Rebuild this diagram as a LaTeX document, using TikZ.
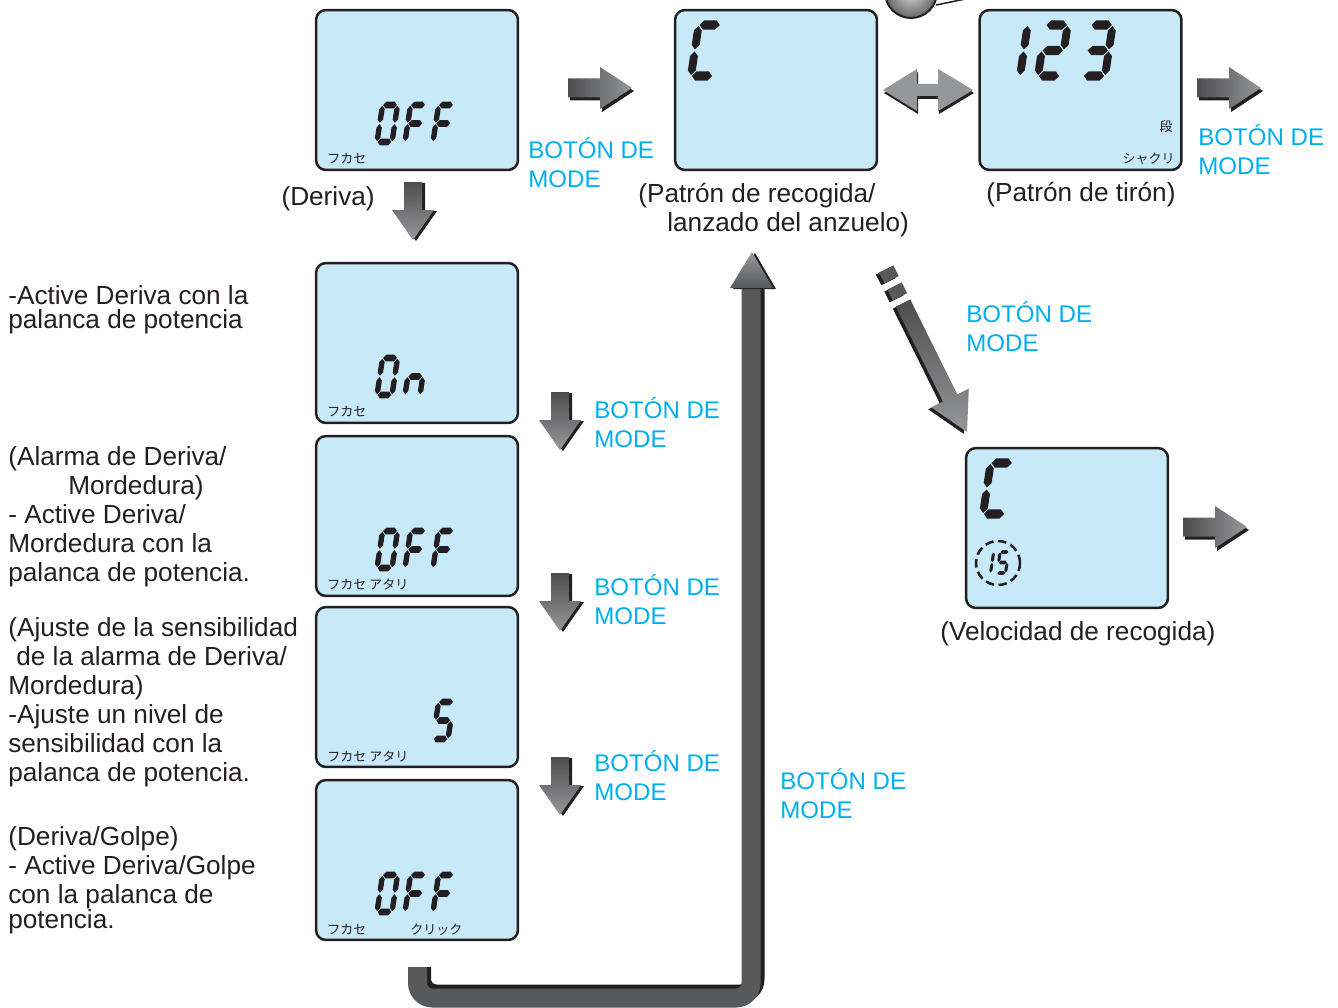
\documentclass[tikz,border=0pt]{standalone}
\usepackage{fontspec}
\setmainfont{Liberation Sans}
\newfontfamily\jpfont{Noto Sans CJK JP}
\usetikzlibrary{positioning}
\definecolor{lcdblue}{RGB}{199,233,248}
\definecolor{inkdark}{RGB}{35,31,32}
\definecolor{modecyan}{RGB}{0,174,239}
\definecolor{arrowdark}{RGB}{77,77,79}
\definecolor{arrowlight}{RGB}{150,151,154}
\definecolor{bandgray}{RGB}{88,89,91}
\tikzset{x=0.02cm, y=-0.02cm,
lcd/.style={draw=inkdark, fill=lcdblue, line width=0.05cm, rounded corners=0.2cm, minimum width=4.04cm, minimum height=3.2cm, inner sep=0pt},
modetext/.style={text=modecyan, align=left, anchor=base west, inner sep=0pt, font=\fontsize{13.7}{16.4}\selectfont},
desc/.style={text=inkdark, align=left, anchor=base west, inner sep=0pt, font=\fontsize{14.9}{16.4}\selectfont},
jp/.style={text=inkdark, inner sep=0pt, anchor=base west, font=\jpfont\fontsize{7.4}{8}\selectfont},
lcdink/.style={fill=inkdark},
shadowfill/.style={fill=inkdark},
}
\newcommand\lcdh[1]{\fill[lcdink] (0.04,#1) -- (0.22,#1+0.18) -- (0.78,#1+0.18) -- (0.96,#1) -- (0.78,#1-0.18) -- (0.22,#1-0.18) -- cycle;}
\newcommand\lcdv[2]{\fill[lcdink] (#1,#2+0.04) -- (#1+0.18,#2+0.22) -- (#1+0.18,#2+0.78) -- (#1,#2+0.96) -- (#1-0.18,#2+0.78) -- (#1-0.18,#2+0.22) -- cycle;}
\newcommand\lcdsega{\lcdh{2}}
\newcommand\lcdsegb{\lcdv{1}{1}}
\newcommand\lcdsegc{\lcdv{1}{0}}
\newcommand\lcdsegd{\lcdh{0}}
\newcommand\lcdsege{\lcdv{0}{0}}
\newcommand\lcdsegf{\lcdv{0}{1}}
\newcommand\lcdsegg{\lcdh{1}}
\newcommand\lcddigit[5]{%
  \begin{scope}[shift={(#1,#2)}, x={(#3*0.02cm,0cm)}, y={(0cm,#4*0.02cm)}, xslant=0.15]
    \foreach \s in {#5} {\csname lcdseg\s\endcsname}
  \end{scope}}
\newcommand\modearrowright[2]{%
  \begin{scope}[shift={(#1,#2)}]
    \fill[shadowfill, shift={(2,3)}] (0,-9.5) -- (32,-9.5) -- (32,-21) -- (64,0) -- (32,21) -- (32,9.5) -- (0,9.5) -- cycle;
    \shade[left color=arrowdark, right color=arrowlight] (0,-9.5) -- (32,-9.5) -- (32,-21) -- (64,0) -- (32,21) -- (32,9.5) -- (0,9.5) -- cycle;
  \end{scope}}
\newcommand\modearrowdown[2]{%
  \begin{scope}[shift={(#1,#2)}]
    \fill[shadowfill, shift={(3,1)}] (-9,0) -- (-9,28) -- (-21,28) -- (0,58) -- (21,28) -- (9,28) -- (9,0) -- cycle;
    \shade[top color=arrowdark, bottom color=arrowlight] (-9,0) -- (-9,28) -- (-21,28) -- (0,58) -- (21,28) -- (9,28) -- (9,0) -- cycle;
  \end{scope}}

\begin{document}
\begin{tikzpicture}
	\useasboundingbox (0,0) rectangle (1338,1007);
	\clip (0,0) rectangle (1338,1007);
	% knob
	\draw[inkdark, line width=0.03cm] (936,5) -- (990,-6);
	\shade[inner color=gray!30, outer color=gray!80!black, draw=inkdark, line width=0.04cm] (911,-8) circle (0.52cm);
	% screens
	\node[lcd] (drift) at (417,90) {};
	\node[lcd] (retrieve) at (776,90) {};
	\node[lcd] (jerk) at (1080.5,90) {};
	\node[lcd] (drifton) at (417,343) {};
	\node[lcd] (bite) at (417,516) {};
	\node[lcd] (sense) at (417,687) {};
	\node[lcd] (knock) at (417,860) {};
	\node[lcd] (speed) at (1067,528) {};
	% digits
	\lcddigit{377}{142}{15}{18.5}{a,b,c,d,e,f}
	\lcddigit{405}{142}{15}{18.5}{a,e,f,g}
	\lcddigit{433}{142}{15}{18.5}{a,e,f,g}
	\lcddigit{377}{395}{15}{18.5}{a,b,c,d,e,f}
	\lcddigit{405}{395}{15}{18.5}{c,e,g}
	\lcddigit{377}{568}{15}{18.5}{a,b,c,d,e,f}
	\lcddigit{405}{568}{15}{18.5}{a,e,f,g}
	\lcddigit{433}{568}{15}{18.5}{a,e,f,g}
	\lcddigit{433}{739}{15}{18.5}{a,c,d,f,g}
	\lcddigit{377}{912}{15}{18.5}{a,b,c,d,e,f}
	\lcddigit{405}{912}{15}{18.5}{a,e,f,g}
	\lcddigit{433}{912}{15}{18.5}{a,e,f,g}
	\lcddigit{691}{76}{22}{25.5}{a,d,e,f}
	\lcddigit{998}{76}{22}{25.5}{b,c}
	\lcddigit{1038}{76}{22}{25.5}{a,b,d,e,g}
	\lcddigit{1083}{76}{22}{25.5}{a,b,c,d,g}
	\lcddigit{983}{514}{22}{25.5}{a,d,e,f}
	\lcddigit{982}{573}{8.5}{10.5}{b,c}
	\lcddigit{997}{573}{8.5}{10.5}{a,c,d,f,g}
	\draw[inkdark, line width=0.05cm, dash pattern=on 0.17cm off 0.09cm] (998,563) circle (0.44cm);
	% small labels
	\node[jp] (jpdrift) at (327,163) {フカセ};
	\node[jp] (jpdrifton) at (327,416) {フカセ};
	\node[jp] (jpbite) at (327,589) {フカセ アタリ};
	\node[jp] (jpsense) at (327,761) {フカセ アタリ};
	\node[jp] (jpknock) at (327,934) {フカセ};
	\node[jp] (jpclick) at (410,934) {クリック};
	\node[jp, anchor=base east] (jpstep) at (1173,132) {段};
	\node[jp, anchor=base east] (jpjerk) at (1175,163) {シャクリ};
	% arrows
	\modearrowright{568}{88}
	\modearrowright{1197}{88}
	\modearrowright{1183}{527}
	\modearrowdown{413}{182}
	\modearrowdown{560}{392}
	\modearrowdown{560}{573}
	\modearrowdown{560}{757}
	\fill[shadowfill, shift={(1,3)}] (883,90) -- (917,69) -- (917,84) -- (938,84) -- (938,69) -- (973,90) -- (938,111) -- (938,96) -- (917,96) -- (917,111) -- cycle;
	\shade[left color=arrowlight, middle color=arrowdark, right color=arrowlight] (883,90) -- (917,69) -- (917,84) -- (938,84) -- (938,69) -- (973,90) -- (938,111) -- (938,96) -- (917,96) -- (917,111) -- cycle;
	\begin{scope}[shift={(-3,2)}]
		\fill[shadowfill] (910.2,299.4) -- (957.3,394.4) -- (968.8,388.7) -- (967,432) -- (931.2,407.3) -- (942.9,401.6) -- (895.8,306.6) -- cycle;
		\fill[shadowfill] (901.8,282.4) -- (907.1,293.1) -- (892.7,300.3) -- (887.4,289.6) -- cycle;
		\fill[shadowfill] (893.3,265.4) -- (898.7,276.1) -- (884.3,283.3) -- (878.9,272.6) -- cycle;
	\end{scope}
	\shade[top color=arrowdark, bottom color=arrowlight] (910.2,299.4) -- (957.3,394.4) -- (968.8,388.7) -- (967,432) -- (931.2,407.3) -- (942.9,401.6) -- (895.8,306.6) -- cycle;
	\fill[bandgray] (901.8,282.4) -- (907.1,293.1) -- (892.7,300.3) -- (887.4,289.6) -- cycle;
	\fill[bandgray] (893.3,265.4) -- (898.7,276.1) -- (884.3,283.3) -- (878.9,272.6) -- cycle;
	% loop back
	\coordinate (loopstart) at (417.5,967);
	\coordinate (loopcorner) at (751,998);
	\coordinate (loopend) at (751,288);
	\draw[inkdark, line width=0.38cm, rounded corners=0.3cm] (421.5,967) |- (755,994) -- (755,288);
	\draw[bandgray, line width=0.38cm, rounded corners=0.3cm] (loopstart) |- (loopcorner) -- (loopend);
	\fill[shadowfill, shift={(3,1)}] (730,288) -- (752,252) -- (773,288) -- cycle;
	\shade[top color=arrowlight, bottom color=bandgray] (730,288) -- (752,252) -- (773,288) -- cycle;
	% texts
	\node[desc, anchor=base east] (driftcap) at (375,205) {(Deriva)};
	\node[modetext] (mode1) at (528,187) {BOTÓN DE\\MODE};
	\node[desc] (retrievecap) at (638,231) {(Patrón de recogida/\\\hspace*{0.58cm}lanzado del anzuelo)};
	\node[desc] (jerkcap) at (986,201) {(Patrón de tirón)};
	\node[modetext] (mode2) at (1198,174) {BOTÓN DE\\MODE};
	\node[modetext] (mode3) at (966,351) {BOTÓN DE\\MODE};
	\node[desc] (speedcap) at (940,640) {(Velocidad de recogida)};
	\node[modetext] (mode4) at (594,447) {BOTÓN DE\\MODE};
	\node[modetext] (mode5) at (594,624) {BOTÓN DE\\MODE};
	\node[modetext] (mode6) at (594,800) {BOTÓN DE\\MODE};
	\node[modetext] (mode7) at (780,818) {BOTÓN DE\\MODE};
	\node[desc, font=\fontsize{14.9}{13.6}\selectfont] (hinton) at (8,328) {-Active Deriva con la\\palanca de potencia};
	\node[desc] (hintbite) at (8,581) {(Alarma de Deriva/\\\hspace*{1.2cm}Mordedura)\\- Active Deriva/\\Mordedura con la\\palanca de potencia.};
	\node[desc] (hintsense) at (8,781) {(Ajuste de la sensibilidad\\\hspace*{0.16cm}de la alarma de Deriva/\\Mordedura)\\-Ajuste un nivel de\\sensibilidad con la\\palanca de potencia.};
	\node[desc] (hintknock) at (8,928) {(Deriva/Golpe)\\- Active Deriva/Golpe\\con la palanca de\\[-0.08cm]potencia.};
\end{tikzpicture}
\end{document}
